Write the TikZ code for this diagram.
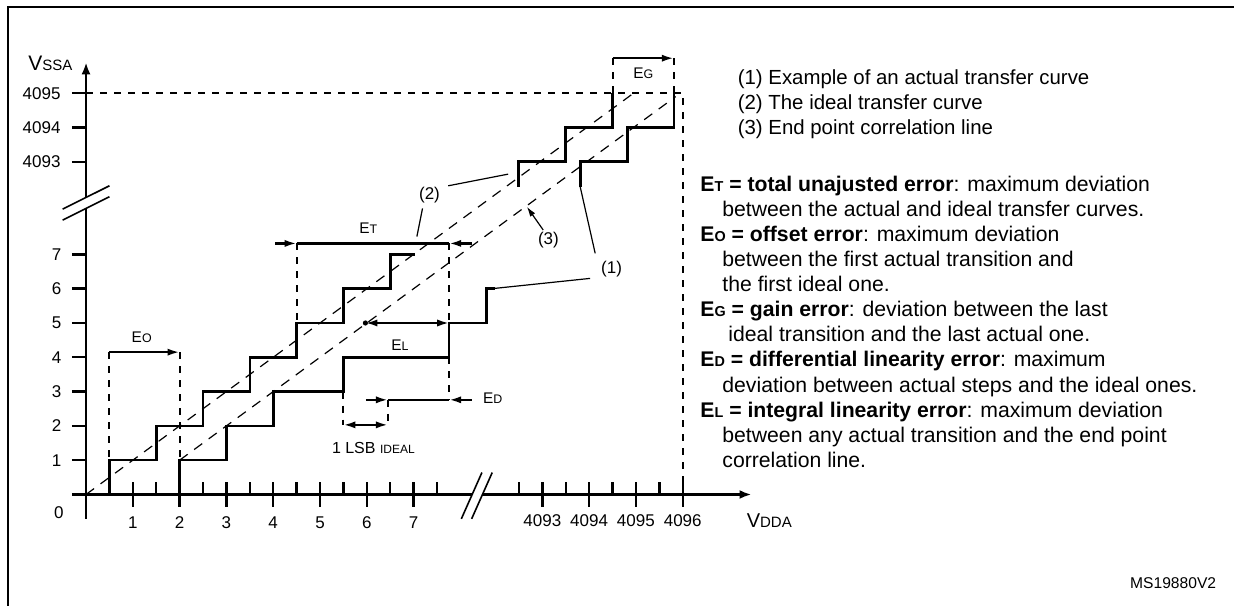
\documentclass[tikz,border=0pt]{standalone}
\usepackage{fontspec}
\setmainfont{Liberation Sans}
\usetikzlibrary{arrows.meta}
\usetikzlibrary{positioning}

\newcommand{\lowcap}[2]{{\fontsize{#1}{#1}\selectfont #2}}

\begin{document}
\begin{tikzpicture}[
  x=23.4pt, y=17.15pt,
  axis/.style={line width=1.2pt},
  stair/.style={line width=1.3pt},
  guide/.style={line width=1pt, dash pattern=on 3.5pt off 3.5pt},
  corr/.style={line width=0.6pt, dash pattern=on 5pt off 4pt},
  leader/.style={line width=0.6pt},
  errline/.style={line width=1.1pt},
  errarrow/.style={line width=1.1pt, -{Latex[length=6pt,width=3.6pt]}},
  twoway/.style={line width=1.1pt, {Latex[length=6pt,width=3.6pt]}-{Latex[length=6pt,width=3.6pt]}},
  num/.style={font=\fontsize{8.5pt}{10pt}\selectfont, inner sep=0pt},
  errlabel/.style={font=\fontsize{7.7pt}{9pt}\selectfont, inner sep=0pt},
  notes/.style={font=\fontsize{10.6pt}{12.55pt}\selectfont, align=left, anchor=north west, inner sep=0pt}
]
\fill[white] (-1.838,-3.222) rectangle (24.53,14.417);
\useasboundingbox (-1.838,-3.222) rectangle (24.53,14.417);

% frame
\draw[line width=1pt] (24.8,14.213) -- (-1.667,14.213) -- (-1.667,-3.6);

% axes with breaks
\draw[axis] (-0.3,0) -- (8.25,0);
\draw[axis,-{Latex[length=6pt,width=4.5pt]}] (8.47,0) -- (14.22,0);
\draw[axis] (0,-0.71) -- (0,8.34);
\draw[axis,-{Latex[length=6pt,width=4.5pt]}] (0,8.66) -- (0,12.6);
\draw[leader,line width=0.8pt] (8.02,-0.71) -- (8.46,0.64);
\draw[leader,line width=0.8pt] (8.24,-0.71) -- (8.68,0.64);
\draw[leader,line width=0.8pt] (-0.5,8.32) -- (0.5,9.0);
\draw[leader,line width=0.8pt] (-0.5,8.0) -- (0.5,8.68);

% ticks
\foreach \k in {1,...,7} \draw[axis] (\k,-0.36) -- (\k,0.36);
\foreach \k in {0.5,1.5,...,7.5} \draw[axis] (\k,0) -- (\k,0.36);
\foreach \k in {9.75,10.75,11.75,12.75} \draw[axis] (\k,-0.36) -- (\k,0.36);
\foreach \k in {9.25,10.25,11.25,12.25} \draw[axis] (\k,0) -- (\k,0.36);
\foreach \k in {1,...,7,9.7,10.7,11.7} \draw[axis] (-0.3,\k) -- (0,\k);

% axis labels
\node[num] (zero) at (-0.58,-0.52) {0};
\foreach \k in {1,...,7} \node[num] (xl\k) at (\k,-0.82) {\k};
\foreach \k/\v in {9.75/4093,10.75/4094,11.75/4095,12.75/4096} \node[num] (xl\v) at (\k,-0.77) {\v};
\foreach \k in {1,...,7} \node[num] (yl\k) at (-0.63,\k) {\k};
\foreach \k/\v in {9.7/4093,10.7/4094,11.7/4095} \node[num] (yl\v) at (-0.95,\k) {\v};
\node[inner sep=0pt, font=\fontsize{10.5pt}{12pt}\selectfont] (vssa) at (-0.76,12.57) {V\lowcap{7.5pt}{SSA}};
\node[inner sep=0pt, font=\fontsize{10pt}{12pt}\selectfont] (vdda) at (14.6,-0.75) {V\lowcap{7.5pt}{DDA}};

% full scale guides
\draw[guide] (0,11.7) -- (12.75,11.7) -- (12.75,0);

% ideal transfer curve
\draw[stair] (0.5,0) -- (0.5,1) -- (1.5,1) -- (1.5,2) -- (2.5,2) -- (2.5,3) -- (3.5,3) -- (3.5,4)
  -- (4.5,4) -- (4.5,5) -- (5.5,5) -- (5.5,6) -- (6.5,6) -- (6.5,7) -- (7.02,7);
\draw[stair] (9.24,8.97) -- (9.24,9.7) -- (10.25,9.7) -- (10.25,10.7) -- (11.25,10.7) -- (11.25,11.7);

% actual transfer curve
\draw[stair] (2,0) -- (2,1) -- (3,1) -- (3,2) -- (4,2) -- (4,3) -- (5.5,3) -- (5.5,4)
  -- (7.76,4) -- (7.76,5) -- (8.56,5) -- (8.56,6) -- (8.74,6);
\draw[stair] (10.56,8.97) -- (10.56,9.7) -- (11.57,9.7) -- (11.57,10.7) -- (12.56,10.7) -- (12.56,11.7);

% straight lines
\draw[corr] (0,0) -- (11.75,11.75);
\draw[corr] (2,1) -- (12.6,11.6);

% EO
\coordinate (eoA) at (0.5,4.15);
\coordinate (eoB) at (2,4.15);
\draw[guide] (eoA) -- (0.5,1);
\draw[guide] (eoB) -- (2,1);
\draw[errarrow] (eoA) -- (eoB);
\node[errlabel] (eo) at (1.19,4.58) {E\lowcap{6.2pt}{O}};

% ET
\coordinate (etA) at (4.5,7.32);
\coordinate (etB) at (7.76,7.32);
\draw[guide] (etA) -- (4.5,5);
\draw[guide] (etB) -- (7.76,5);
\draw[guide] (7.76,4) -- (7.76,2.76);
\draw[errarrow] (4.04,7.32) -- (etA);
\draw[errline] (etA) -- (etB);
\draw[errarrow] (8.24,7.32) -- (etB);
\node[errlabel] (et) at (6.03,7.76) {E\lowcap{6.2pt}{T}};

% EL
\coordinate (elA) at (5.97,5);
\coordinate (elB) at (7.76,5);
\fill (elA) circle (1.3pt);
\draw[twoway] (elA) -- (elB);
\node[errlabel] (el) at (6.71,4.36) {E\lowcap{6.2pt}{L}};

% ED and 1 LSB
\coordinate (edA) at (6.45,2.76);
\coordinate (edB) at (7.76,2.76);
\draw[guide] (5.5,3) -- (5.5,2.03);
\draw[guide] (edA) -- (6.45,2.03);
\draw[errarrow] (5.98,2.76) -- (edA);
\draw[errline] (edA) -- (edB);
\draw[errarrow] (8.24,2.76) -- (edB);
\node[errlabel] (ed) at (8.69,2.8) {E\lowcap{6.2pt}{D}};
\draw[twoway] (5.5,2.03) -- (6.45,2.03);
\node[inner sep=0pt, font=\fontsize{8pt}{9pt}\selectfont] (lsb) at (6.14,1.35) {1 LSB \lowcap{6pt}{IDEAL}};

% EG
\coordinate (egA) at (11.25,12.72);
\coordinate (egB) at (12.56,12.72);
\draw[guide] (egA) -- (11.25,11.7);
\draw[guide] (egB) -- (12.56,11.7);
\draw[errarrow] (egA) -- (egB);
\node[errlabel] (eg) at (11.91,12.28) {E\lowcap{6.2pt}{G}};

% callouts
\node[num] (lab2) at (7.34,8.73) {(2)};
\node[num] (lab3) at (9.88,7.42) {(3)};
\node[num] (lab1) at (11.23,6.57) {(1)};
\coordinate (c2a) at (7.74,9.0);  \coordinate (c2b) at (9.02,9.34);
\coordinate (c2c) at (7.19,8.34); \coordinate (c2d) at (7.07,7.52);
\coordinate (c3a) at (9.77,7.71); \coordinate (c3b) at (9.42,8.39);
\coordinate (c1a) at (10.88,7.03); \coordinate (c1b) at (10.56,8.97);
\coordinate (c1c) at (10.77,6.3); \coordinate (c1d) at (8.74,6.01);
\draw[leader] (c2a) -- (c2b);
\draw[leader] (c2c) -- (c2d);
\draw[leader,-{Latex[length=5pt,width=3pt]}] (c3a) -- (c3b);
\draw[leader] (c1a) -- (c1b);
\draw[leader] (c1c) -- (c1d);

% notes
\node[notes, font=\fontsize{10.2pt}{12.55pt}\selectfont] (legend) at (13.92,12.40) {(1) Example of an actual transfer curve\\
(2) The ideal transfer curve\\
(3) End point correlation line};
\node[notes] (defs) at (13.12,9.30) {\textbf{E\lowcap{7.2pt}{T} = total unajusted error}: maximum deviation\\
\hspace*{11pt}between the actual and ideal transfer curves.\\
\textbf{E\lowcap{7.2pt}{O} = offset error}: maximum deviation\\
\hspace*{11pt}between the first actual transition and\\
\hspace*{11pt}the first ideal one.\\
\textbf{E\lowcap{7.2pt}{G} = gain error}: deviation between the last\\
\hspace*{14pt}ideal transition and the last actual one.\\
\textbf{E\lowcap{7.2pt}{D} = differential linearity error}: maximum\\
\hspace*{11pt}deviation between actual steps and the ideal ones.\\
\textbf{E\lowcap{7.2pt}{L} = integral linearity error}: maximum deviation\\
\hspace*{11pt}between any actual transition and the end point\\
\hspace*{11pt}correlation line.};
\node[inner sep=0pt, font=\fontsize{7.8pt}{9pt}\selectfont] (msref) at (23.23,-2.57) {MS19880V2};
\end{tikzpicture}
\end{document}
